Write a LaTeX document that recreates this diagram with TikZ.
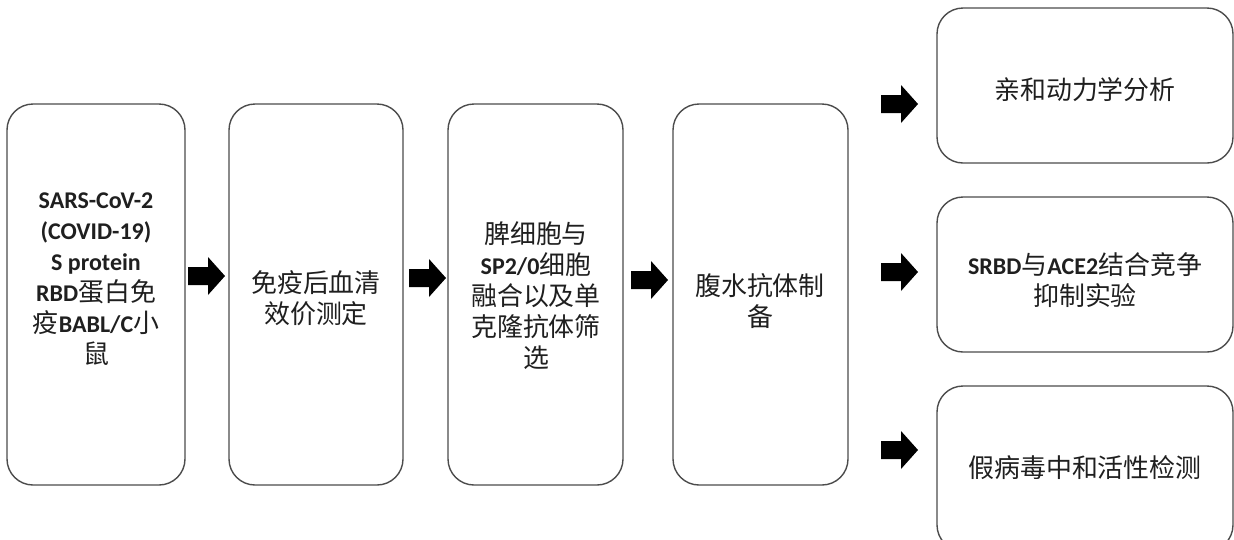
\documentclass[tikz,border=0pt]{standalone}
\usepackage{fontspec}
\setmainfont{Carlito}
\newfontfamily\cjk[Scale=1.08]{Noto Sans CJK SC}
\begin{document}
\begin{tikzpicture}[x=1pt,y=-1pt,
  box/.style={draw=black!70, line width=1.4pt, rounded corners=26pt, inner sep=0pt, fill=white},
  txt/.style={align=center, text=black!88, font=\fontsize{24}{31}\selectfont, inner sep=0pt},
  blockarrow/.pic={\fill[black] (0,-9) -- (20,-9) -- (20,-19) -- (37,0) -- (20,19) -- (20,9) -- (0,9) -- cycle;}
]
\useasboundingbox (0,0) rectangle (1234,539);
\clip (0,0) rectangle (1234,539);
% main column boxes
\node[box, minimum width=178pt, minimum height=381pt] (b1) at (96,294.5) {};
\node[box, minimum width=174pt, minimum height=381pt] (b2) at (316,294.5) {};
\node[box, minimum width=175pt, minimum height=381pt] (b3) at (535.5,294.5) {};
\node[box, minimum width=175pt, minimum height=381pt] (b4) at (760.5,294.5) {};
% right boxes
\node[box, minimum width=296pt, minimum height=155pt] (r1) at (1085,85.5) {};
\node[box, minimum width=296pt, minimum height=155pt] (r2) at (1085,274.5) {};
\node[box, minimum width=296pt, minimum height=165pt] (r3) at (1085,468.5) {};
% texts
\node[txt] (t1) at (96,279) {\bfseries SARS-CoV-2\\\bfseries (COVID-19)\\\bfseries S protein\\{\bfseries RBD}{\cjk 蛋白免}\\{\cjk 疫}{\bfseries BABL/C}{\cjk 小}\\{\cjk 鼠}};
\node[txt] (t2) at (316,298) {\cjk 免疫后血清\\\cjk 效价测定};
\node[txt] (t3) at (536,296) {\cjk 脾细胞与\\{\bfseries SP2/0}{\cjk 细胞}\\\cjk 融合以及单\\\cjk 克隆抗体筛\\\cjk 选};
\node[txt] (t4) at (760,301) {\cjk 腹水抗体制\\\cjk 备};
\node[txt] (t5) at (1085,90) {\cjk 亲和动力学分析};
\node[txt] (t6) at (1085,280) {{\bfseries SRBD}{\cjk 与}{\bfseries ACE2}{\cjk 结合竞争}\\\cjk 抑制实验};
\node[txt] (t7) at (1085,468) {\cjk 假病毒中和活性检测};
% block arrows
\coordinate (a1) at (188,276);
\coordinate (a2) at (409,278);
\coordinate (a3) at (631,280);
\coordinate (a4) at (881,104);
\coordinate (a5) at (881,272);
\coordinate (a6) at (881,450);
\foreach \c in {a1,a2,a3,a4,a5,a6} { \pic at (\c) {blockarrow}; }
\end{tikzpicture}
\end{document}
